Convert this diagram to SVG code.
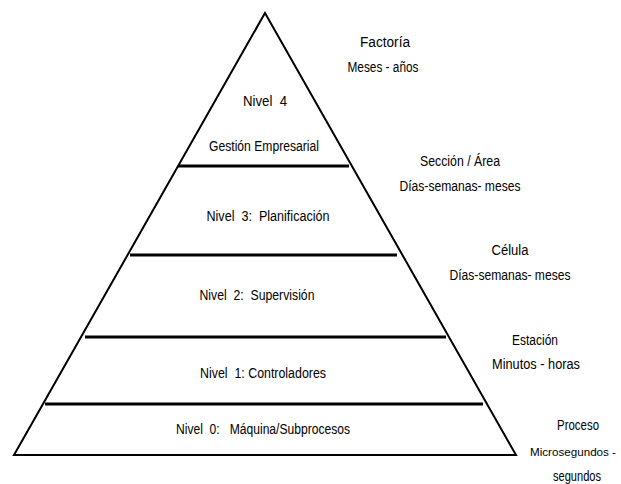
<svg xmlns="http://www.w3.org/2000/svg" width="621" height="484" viewBox="0 0 621 484">
<style>
text{font-family:"Liberation Sans",Arial,sans-serif;font-size:14px;fill:#000;text-anchor:middle;dominant-baseline:central;white-space:pre}
.edge{fill:none;stroke:#000;stroke-width:2;stroke-linejoin:miter}
.div{stroke:#000;stroke-width:3}
</style>
<rect width="621" height="484" fill="#fff"/>
<g id="pyramid">
<polygon class="edge" points="265,13 14,455 516,455"/>
</g>
<g id="connectors">
<line class="div" x1="178" y1="166" x2="349" y2="166"/>
<line class="div" x1="130" y1="255" x2="397" y2="255"/>
<line class="div" x1="85" y1="337" x2="446" y2="337"/>
<line class="div" x1="45" y1="404" x2="483" y2="404"/>
</g>
<g id="nivel4">
<text x="265" y="101" textLength="44" lengthAdjust="spacingAndGlyphs">Nivel  4</text>
<text x="264" y="146" textLength="110" lengthAdjust="spacingAndGlyphs">Gestión Empresarial</text>
</g>
<g id="nivel3">
<text x="268" y="216" textLength="123" lengthAdjust="spacingAndGlyphs">Nivel  3:  Planificación</text>
</g>
<g id="nivel2">
<text x="257" y="295" textLength="115" lengthAdjust="spacingAndGlyphs">Nivel  2:  Supervisión</text>
</g>
<g id="nivel1">
<text x="263" y="373" textLength="126" lengthAdjust="spacingAndGlyphs">Nivel  1: Controladores</text>
</g>
<g id="nivel0">
<text x="263" y="429" textLength="174" lengthAdjust="spacingAndGlyphs">Nivel  0:   Máquina/Subprocesos</text>
</g>
<g id="factoria">
<text x="385" y="42" textLength="50" lengthAdjust="spacingAndGlyphs">Factoría</text>
<text x="383" y="67" textLength="71" lengthAdjust="spacingAndGlyphs">Meses - años</text>
</g>
<g id="seccion">
<text x="460" y="161" textLength="80" lengthAdjust="spacingAndGlyphs">Sección / Área</text>
<text x="460" y="186" textLength="121" lengthAdjust="spacingAndGlyphs">Días-semanas- meses</text>
</g>
<g id="celula">
<text x="510" y="250" textLength="37" lengthAdjust="spacingAndGlyphs">Célula</text>
<text x="510" y="275" textLength="121" lengthAdjust="spacingAndGlyphs">Días-semanas- meses</text>
</g>
<g id="estacion">
<text x="535" y="340" textLength="46" lengthAdjust="spacingAndGlyphs">Estación</text>
<text x="536" y="364" textLength="88" lengthAdjust="spacingAndGlyphs">Minutos - horas</text>
</g>
<g id="proceso">
<text x="578" y="425" textLength="42" lengthAdjust="spacingAndGlyphs">Proceso</text>
<text x="573" y="452" style="font-size:11.5px" textLength="86" lengthAdjust="spacingAndGlyphs">Microsegundos -</text>
<text x="577" y="476" textLength="48" lengthAdjust="spacingAndGlyphs">segundos</text>
</g>
</svg>
